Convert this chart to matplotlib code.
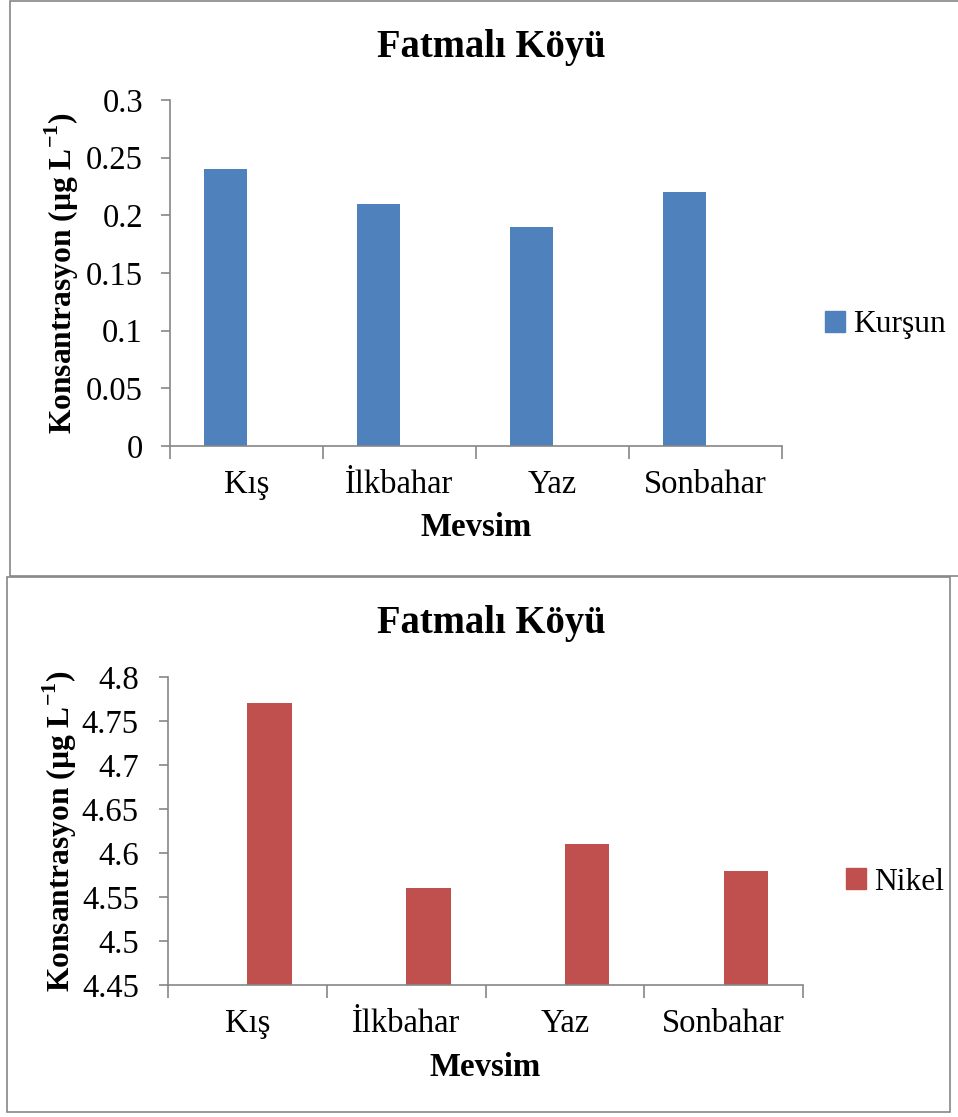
import matplotlib.pyplot as plt
from matplotlib.patches import Rectangle, Patch

plt.rcParams['font.family'] = ['Liberation Serif', 'DejaVu Serif']
plt.rcParams['mathtext.fontset'] = 'custom'
plt.rcParams['mathtext.rm'] = 'Liberation Serif'
plt.rcParams['mathtext.bf'] = 'Liberation Serif:bold'

seasons = ['Kış', 'İlkbahar', 'Yaz', 'Sonbahar']
kursun = [0.24, 0.21, 0.19, 0.22]
nikel = [4.77, 4.56, 4.61, 4.58]
kursun_ticks = [0, 0.05, 0.1, 0.15, 0.2, 0.25, 0.3]
kursun_ticklabels = ['0', '0.05', '0.1', '0.15', '0.2', '0.25', '0.3']
nikel_ticks = [4.45, 4.5, 4.55, 4.6, 4.65, 4.7, 4.75, 4.8]
nikel_ticklabels = ['4.45', '4.5', '4.55', '4.6', '4.65', '4.7', '4.75', '4.8']

W, H = 958, 1117
fig = plt.figure(figsize=(W / 100, H / 100), dpi=100)
gray = '#868686'
bar_w = 0.28

def fx(px):
    return px / W

def fy(py):
    return 1 - py / H

# chart borders
fig.patches.append(Rectangle((fx(10), fy(576)), fx(960) - fx(10), fy(1) - fy(576),
                             transform=fig.transFigure, fill=False, edgecolor=gray, lw=1.2))
fig.patches.append(Rectangle((fx(7), fy(1112)), fx(950) - fx(7), fy(577) - fy(1112),
                             transform=fig.transFigure, fill=False, edgecolor=gray, lw=1.2))

def draw(box, vals, color, shift, ticks, ticklabels, ylim, name, title_y, xlab_y,
         ylab_x, ypad, leg_xy):
    l, t, r, b = box
    ax = fig.add_axes([fx(l), fy(b), fx(r) - fx(l), fy(t) - fy(b)])
    x = list(range(len(seasons)))
    # excel cluster slot: each chart shows one of two series
    ax.bar([i + shift * bar_w / 2 for i in x], vals, width=bar_w, color=color,
           label=name, zorder=2)
    ax.set_xlim(-0.5, len(seasons) - 0.5)
    ax.set_ylim(*ylim)
    ax.set_yticks(ticks)
    ax.set_yticklabels(ticklabels)
    ax.set_xticks(x)
    ax.set_xticklabels(seasons)
    ax.set_xticks([i - 0.5 for i in range(len(seasons) + 1)], minor=True)
    ax.tick_params(axis='x', which='major', length=0, labelsize=23.5, pad=17)
    ax.tick_params(axis='x', which='minor', length=9, color=gray, width=1.2)
    ax.tick_params(axis='y', length=6.5, color=gray, width=1.2, labelsize=23.5, pad=ypad)
    for s in ['top', 'right']:
        ax.spines[s].set_visible(False)
    for s in ['left', 'bottom']:
        ax.spines[s].set_color(gray)
        ax.spines[s].set_linewidth(1.2)
    fig.text(fx(491), fy(title_y), 'Fatmalı Köyü', ha='center', va='center',
             fontsize=27.8, fontweight='bold')
    fig.text(fx((l + r) / 2), fy(xlab_y), 'Mevsim', ha='center', va='center',
             fontsize=23.7, fontweight='bold')
    fig.text(fx(ylab_x), fy((t + b) / 2), r'Konsantrasyon (µg L$^{\mathbf{-1}}$)',
             rotation=90, ha='center', va='center', fontsize=22.7, fontweight='bold')
    fig.legend(handles=[Patch(color=color, label=name)], loc='center left',
               bbox_to_anchor=(fx(leg_xy[0]), fy(leg_xy[1])), frameon=False,
               fontsize=22.7, handlelength=0.65, handleheight=0.65, handletextpad=0.25,
               borderaxespad=0, borderpad=0)
    return ax

draw((170, 100, 782, 446), kursun, '#4F81BD', -1, kursun_ticks, kursun_ticklabels,
     (0, 0.3), 'Kurşun', 48, 528, 62, 13, (825, 325))
draw((168, 677, 803, 985), nikel, '#C0504D', 1, nikel_ticks, nikel_ticklabels,
     (4.45, 4.8), 'Nikel', 624, 1068, 60, 14.5, (846, 882))

fig.savefig('out.png', dpi=100)
